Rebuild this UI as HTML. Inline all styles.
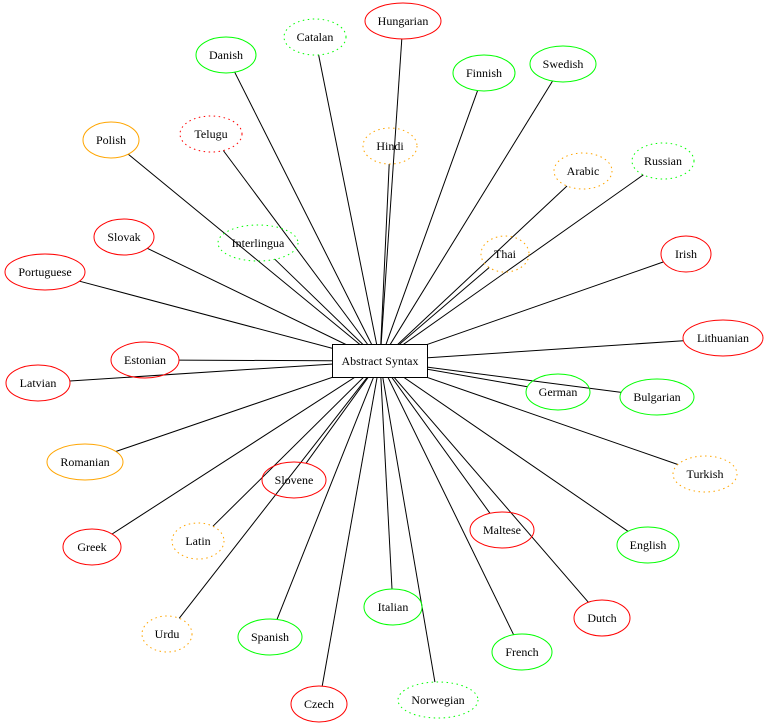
<!DOCTYPE html>
<html><head><meta charset="utf-8"><style>
html,body{margin:0;padding:0;background:#fff;}
svg{display:block;}
text{font-family:"Liberation Serif",serif;font-size:12px;text-anchor:middle;dominant-baseline:central;fill:#000;}
.e{fill:none;stroke-width:1;}
.r{stroke:#ff0000}.g{stroke:#00ff00}.o{stroke:#ffa500}
.d{stroke-dasharray:1.5 3.5}
line{stroke:#000;stroke-width:1;}
</style></head><body>
<svg width="768" height="727" viewBox="0 0 768 727">
<g>
<line x1="380" y1="361" x2="401.8" y2="39"/>
<line x1="380" y1="361" x2="318.6" y2="54.9"/>
<line x1="380" y1="361" x2="234.7" y2="72.2"/>
<line x1="380" y1="361" x2="477.6" y2="90.6"/>
<line x1="380" y1="361" x2="552.5" y2="81.1"/>
<line x1="380" y1="361" x2="128.3" y2="154.2"/>
<line x1="380" y1="361" x2="223.3" y2="150.5"/>
<line x1="380" y1="361" x2="389.2" y2="164"/>
<line x1="380" y1="361" x2="567" y2="186"/>
<line x1="380" y1="361" x2="643.3" y2="174.9"/>
<line x1="380" y1="361" x2="147.3" y2="248.3"/>
<line x1="380" y1="361" x2="274.9" y2="259.3"/>
<line x1="380" y1="361" x2="489.2" y2="267.5"/>
<line x1="380" y1="361" x2="663.5" y2="261.9"/>
<line x1="380" y1="361" x2="79.5" y2="281.2"/>
<line x1="380" y1="361" x2="179" y2="360.1"/>
<line x1="380" y1="361" x2="69.8" y2="381"/>
<line x1="380" y1="361" x2="683.4" y2="340.7"/>
<line x1="380" y1="361" x2="527.4" y2="386.7"/>
<line x1="380" y1="361" x2="621.3" y2="392.4"/>
<line x1="380" y1="361" x2="115.8" y2="451.5"/>
<line x1="380" y1="361" x2="677.8" y2="464.5"/>
<line x1="380" y1="361" x2="306" y2="463.3"/>
<line x1="380" y1="361" x2="490" y2="513.3"/>
<line x1="380" y1="361" x2="628" y2="531.3"/>
<line x1="380" y1="361" x2="112.1" y2="534"/>
<line x1="380" y1="361" x2="212.9" y2="526.3"/>
<line x1="380" y1="361" x2="588.4" y2="602.3"/>
<line x1="380" y1="361" x2="392" y2="589"/>
<line x1="380" y1="361" x2="179.2" y2="618.3"/>
<line x1="380" y1="361" x2="277" y2="619.4"/>
<line x1="380" y1="361" x2="513.6" y2="634.7"/>
<line x1="380" y1="361" x2="322.2" y2="686.1"/>
<line x1="380" y1="361" x2="434.9" y2="682.1"/>
</g>
<rect x="332.5" y="344.5" width="95" height="33" fill="#fff" stroke="#000"/>
<text x="380" y="361">Abstract Syntax</text>

<ellipse class="e r" cx="403" cy="21" rx="38" ry="18"/><text x="403" y="21">Hungarian</text>
<ellipse class="e g d" cx="315" cy="37" rx="31" ry="18"/><text x="315" y="37">Catalan</text>
<ellipse class="e g" cx="226" cy="55" rx="30" ry="18"/><text x="226" y="55">Danish</text>
<ellipse class="e g" cx="484" cy="73" rx="31" ry="18"/><text x="484" y="73">Finnish</text>
<ellipse class="e g" cx="563" cy="64" rx="33" ry="18"/><text x="563" y="64">Swedish</text>
<ellipse class="e o" cx="111" cy="140" rx="28" ry="18"/><text x="111" y="140">Polish</text>
<ellipse class="e r d" cx="211" cy="134" rx="31" ry="18"/><text x="211" y="134">Telugu</text>
<ellipse class="e o d" cx="390" cy="146" rx="27" ry="18"/><text x="390" y="146">Hindi</text>
<ellipse class="e o d" cx="583" cy="171" rx="29" ry="18"/><text x="583" y="171">Arabic</text>
<ellipse class="e g d" cx="663" cy="161" rx="31" ry="18"/><text x="663" y="161">Russian</text>
<ellipse class="e r" cx="124" cy="237" rx="30" ry="18"/><text x="124" y="237">Slovak</text>
<ellipse class="e g d" cx="258" cy="243" rx="40" ry="18"/><text x="258" y="243">Interlingua</text>
<ellipse class="e o d" cx="505" cy="254" rx="24" ry="18"/><text x="505" y="254">Thai</text>
<ellipse class="e r" cx="686" cy="254" rx="25" ry="18"/><text x="686" y="254">Irish</text>
<ellipse class="e r" cx="45" cy="272" rx="40" ry="18"/><text x="45" y="272">Portuguese</text>
<ellipse class="e r" cx="145" cy="360" rx="34" ry="18"/><text x="145" y="360">Estonian</text>
<ellipse class="e r" cx="38" cy="383" rx="32" ry="18"/><text x="38" y="383">Latvian</text>
<ellipse class="e r" cx="723" cy="338" rx="40" ry="18"/><text x="723" y="338">Lithuanian</text>
<ellipse class="e g" cx="558" cy="392" rx="32" ry="18"/><text x="558" y="392">German</text>
<ellipse class="e g" cx="657" cy="397" rx="37" ry="18"/><text x="657" y="397">Bulgarian</text>
<ellipse class="e o" cx="85" cy="462" rx="38" ry="18"/><text x="85" y="462">Romanian</text>
<ellipse class="e o d" cx="705" cy="474" rx="32" ry="18"/><text x="705" y="474">Turkish</text>
<ellipse class="e r" cx="294" cy="480" rx="32" ry="18"/><text x="294" y="480">Slovene</text>
<ellipse class="e r" cx="502" cy="530" rx="32" ry="18"/><text x="502" y="530">Maltese</text>
<ellipse class="e g" cx="648" cy="545" rx="31" ry="18"/><text x="648" y="545">English</text>
<ellipse class="e r" cx="92" cy="547" rx="29" ry="18"/><text x="92" y="547">Greek</text>
<ellipse class="e o d" cx="198" cy="541" rx="26" ry="18"/><text x="198" y="541">Latin</text>
<ellipse class="e r" cx="602" cy="618" rx="28" ry="18"/><text x="602" y="618">Dutch</text>
<ellipse class="e g" cx="393" cy="607" rx="29" ry="18"/><text x="393" y="607">Italian</text>
<ellipse class="e o d" cx="167" cy="634" rx="25" ry="18"/><text x="167" y="634">Urdu</text>
<ellipse class="e g" cx="270" cy="637" rx="32" ry="18"/><text x="270" y="637">Spanish</text>
<ellipse class="e g" cx="522" cy="652" rx="30" ry="18"/><text x="522" y="652">French</text>
<ellipse class="e r" cx="319" cy="704" rx="28" ry="18"/><text x="319" y="704">Czech</text>
<ellipse class="e g d" cx="438" cy="700" rx="40" ry="18"/><text x="438" y="700">Norwegian</text>
</svg>
</body></html>
